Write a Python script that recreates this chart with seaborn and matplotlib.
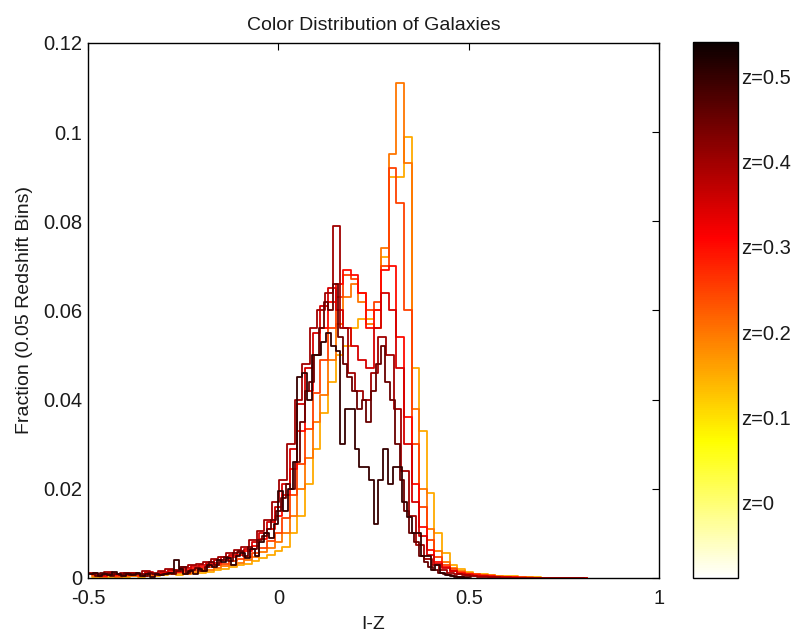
import numpy as np
import pandas as pd
import matplotlib
matplotlib.use("Agg")
import matplotlib.pyplot as plt
import matplotlib.colors as mcolors
import seaborn as sns

# redshift of each histogram (colour), bin start / width and fractions per bin
redshifts = [0.15, 0.2, 0.25, 0.3, 0.35, 0.4, 0.45, 0.5]
bin_start = [-0.49, -0.49, -0.49, -0.49, -0.49, -0.4975, -0.49375, -0.5]
bin_width = [0.02, 0.02, 0.02, 0.02, 0.02, 0.02, 0.0125, 0.0125]

frac_z015 = [0.0003, 0.0005, 0.0002, 0.0004, 0.0003, 0.0005, 0.0003, 0.0006, 0.0004, 0.0006,
             0.0008, 0.0007, 0.0010, 0.0012, 0.0011, 0.0014, 0.0017, 0.0020, 0.0024, 0.0028,
             0.0032, 0.0038, 0.0045, 0.0052, 0.0060, 0.0070, 0.0100, 0.0140, 0.0210, 0.0290,
             0.0370, 0.0440, 0.0500, 0.0520, 0.0560, 0.0580, 0.0580, 0.0600, 0.0720, 0.0900,
             0.0900, 0.0990, 0.0470, 0.0330, 0.0190, 0.0100, 0.0055, 0.0030, 0.0020, 0.0014,
             0.0010, 0.0008, 0.0006, 0.0005, 0.0004, 0.0004, 0.0003, 0.0002, 0.0002, 0.0001,
             0.0001, 0.0001, 0.0, 0.0, 0.0]
frac_z020 = [0.0004, 0.0003, 0.0006, 0.0003, 0.0005, 0.0004, 0.0007, 0.0005, 0.0006, 0.0008,
             0.0009, 0.0011, 0.0010, 0.0014, 0.0016, 0.0018, 0.0022, 0.0026, 0.0030, 0.0034,
             0.0040, 0.0048, 0.0058, 0.0068, 0.0080, 0.0100, 0.0140, 0.0200, 0.0270, 0.0350,
             0.0410, 0.0490, 0.0570, 0.0630, 0.0660, 0.0620, 0.0570, 0.0560, 0.0740, 0.0950,
             0.1110, 0.0930, 0.0380, 0.0200, 0.0110, 0.0060, 0.0035, 0.0022, 0.0016, 0.0012,
             0.0009, 0.0007, 0.0006, 0.0004, 0.0003, 0.0003, 0.0002, 0.0002, 0.0001, 0.0001,
             0.0001, 0.0, 0.0, 0.0, 0.0]
frac_z025 = [0.0006, 0.0004, 0.0007, 0.0005, 0.0006, 0.0008, 0.0005, 0.0009, 0.0007, 0.0010,
             0.0012, 0.0014, 0.0013, 0.0017, 0.0020, 0.0024, 0.0028, 0.0032, 0.0037, 0.0042,
             0.0048, 0.0056, 0.0068, 0.0082, 0.0100, 0.0135, 0.0185, 0.0255, 0.0335, 0.0415,
             0.0490, 0.0560, 0.0630, 0.0680, 0.0670, 0.0640, 0.0600, 0.0620, 0.0700, 0.0920,
             0.0840, 0.0600, 0.0300, 0.0160, 0.0085, 0.0048, 0.0030, 0.0020, 0.0014, 0.0010,
             0.0008, 0.0006, 0.0004, 0.0003, 0.0003, 0.0002, 0.0002, 0.0001, 0.0001, 0.0,
             0.0, 0.0, 0.0, 0.0, 0.0]
frac_z030 = [0.0008, 0.0005, 0.0009, 0.0006, 0.0007, 0.0009, 0.0006, 0.0011, 0.0008, 0.0012,
             0.0015, 0.0013, 0.0018, 0.0022, 0.0025, 0.0030, 0.0034, 0.0040, 0.0046, 0.0052,
             0.0060, 0.0072, 0.0088, 0.0110, 0.0140, 0.0185, 0.0245, 0.0330, 0.0420, 0.0500,
             0.0560, 0.0620, 0.0660, 0.0690, 0.0680, 0.0640, 0.0560, 0.0600, 0.0690, 0.0700,
             0.0540, 0.0360, 0.0210, 0.0115, 0.0062, 0.0036, 0.0024, 0.0016, 0.0011, 0.0008,
             0.0006, 0.0005, 0.0004, 0.0003, 0.0002, 0.0002, 0.0001, 0.0001, 0.0, 0.0,
             0.0, 0.0, 0.0, 0.0, 0.0]
frac_z035 = [0.0010, 0.0006, 0.0011, 0.0008, 0.0009, 0.0011, 0.0008, 0.0013, 0.0010, 0.0014,
             0.0018, 0.0016, 0.0022, 0.0026, 0.0030, 0.0034, 0.0040, 0.0046, 0.0052, 0.0058,
             0.0066, 0.0080, 0.0100, 0.0125, 0.0160, 0.0210, 0.0290, 0.0390, 0.0470, 0.0550,
             0.0610, 0.0650, 0.0600, 0.0560, 0.0520, 0.0490, 0.0470, 0.0560, 0.0640, 0.0600,
             0.0470, 0.0300, 0.0170, 0.0095, 0.0052, 0.0032, 0.0022, 0.0015, 0.0010, 0.0007,
             0.0005, 0.0004, 0.0003, 0.0002, 0.0002, 0.0001, 0.0001, 0.0, 0.0, 0.0,
             0.0, 0.0, 0.0, 0.0, 0.0]
frac_z040 = [0.0012, 0.0007, 0.0013, 0.0009, 0.0011, 0.0012, 0.0009, 0.0015, 0.0011, 0.0016,
             0.0020, 0.0018, 0.0025, 0.0028, 0.0032, 0.0036, 0.0042, 0.0048, 0.0055, 0.0062,
             0.0070, 0.0085, 0.0105, 0.0130, 0.0170, 0.0220, 0.0300, 0.0400, 0.0480, 0.0560,
             0.0600, 0.0640, 0.0790, 0.0560, 0.0460, 0.0420, 0.0400, 0.0460, 0.0540, 0.0500,
             0.0380, 0.0240, 0.0140, 0.0075, 0.0042, 0.0028, 0.0018, 0.0012, 0.0008, 0.0006,
             0.0004, 0.0003, 0.0002, 0.0002, 0.0001, 0.0, 0.0, 0.0, 0.0, 0.0,
             0.0, 0.0, 0.0, 0.0, 0.0]
frac_z045 = [0.0010, 0.0005, 0.0012, 0.0008, 0.0005, 0.0010, 0.0007, 0.0012,
             0.0006, 0.0010, 0.0008, 0.0005, 0.0012, 0.0008, 0.0006, 0.0010,
             0.0012, 0.0008, 0.0015, 0.0025, 0.0012, 0.0018, 0.0022, 0.0015,
             0.0025, 0.0035, 0.0028, 0.0040, 0.0048, 0.0038, 0.0055, 0.0060,
             0.0050, 0.0070, 0.0065, 0.0085, 0.0095, 0.0110, 0.0130, 0.0150,
             0.0180, 0.0210, 0.0200, 0.0260, 0.0350, 0.0420, 0.0440, 0.0500,
             0.0560, 0.0620, 0.0600, 0.0660, 0.0540, 0.0480, 0.0450, 0.0420,
             0.0380, 0.0400, 0.0350, 0.0420, 0.0480, 0.0520, 0.0440, 0.0400,
             0.0300, 0.0220, 0.0150, 0.0100, 0.0080, 0.0050, 0.0035, 0.0025,
             0.0018, 0.0012, 0.0010, 0.0006, 0.0005, 0.0003, 0.0002, 0.0002]
frac_z050 = [0.0008, 0.0012, 0.0005, 0.0010, 0.0006, 0.0014, 0.0008, 0.0004,
             0.0010, 0.0006, 0.0012, 0.0005, 0.0008, 0.0003, 0.0010, 0.0006,
             0.0008, 0.0012, 0.0040, 0.0020, 0.0010, 0.0015, 0.0008, 0.0020,
             0.0015, 0.0030, 0.0025, 0.0040, 0.0035, 0.0045, 0.0030, 0.0050,
             0.0055, 0.0045, 0.0065, 0.0050, 0.0080, 0.0100, 0.0090, 0.0120,
             0.0195, 0.0150, 0.0200, 0.0260, 0.0450, 0.0460, 0.0400, 0.0500,
             0.0500, 0.0530, 0.0550, 0.0520, 0.0510, 0.0300, 0.0380, 0.0380,
             0.0290, 0.0250, 0.0250, 0.0220, 0.0120, 0.0220, 0.0290, 0.0210,
             0.0250, 0.0250, 0.0170, 0.0137, 0.0100, 0.0100, 0.0050, 0.0050,
             0.0018, 0.0030, 0.0012, 0.0006, 0.0004, 0.0003, 0.0002, 0.0001]
fractions = [frac_z015, frac_z020, frac_z025, frac_z030,
             frac_z035, frac_z040, frac_z045, frac_z050]

cbar_ticks = [0, 0.1, 0.2, 0.3, 0.4, 0.5]
cbar_labels = ["z=0", "z=0.1", "z=0.2", "z=0.3", "z=0.4", "z=0.5"]

sns.set_style("white")
plt.rcParams["font.family"] = ["Liberation Sans", "DejaVu Sans"]

fig = plt.figure(figsize=(7.94, 6.35), dpi=100)
ax = fig.add_axes([0.111, 0.0898, 0.719, 0.8425])
cax = fig.add_axes([0.873, 0.0898, 0.057, 0.8441])

cmap = plt.get_cmap("hot_r")
norm = mcolors.Normalize(vmin=-0.088, vmax=0.54)

for z, start, width, vals in zip(redshifts, bin_start, bin_width, fractions):
    n = len(vals)
    centers = start + width * (np.arange(n) + 0.5)
    df = pd.DataFrame({"x": centers, "w": vals})
    sns.histplot(data=df, x="x", weights="w", binwidth=width,
                 binrange=(start, start + width * n), element="step",
                 fill=False, color=cmap(norm(z)), linewidth=1.3, ax=ax)

txt = "#1a1a1a"
ax.set_xlim(-0.5, 1)
ax.set_ylim(0, 0.12)
ax.set_xticks([-0.5, 0, 0.5, 1])
ax.set_xticklabels(["-0.5", "0", "0.5", "1"])
ax.set_yticks([0, 0.02, 0.04, 0.06, 0.08, 0.1, 0.12])
ax.set_yticklabels(["0", "0.02", "0.04", "0.06", "0.08", "0.1", "0.12"])
ax.tick_params(direction="in", length=5, width=0.8, top=True, right=True,
               labelsize=14.5, color="black", labelcolor=txt)
ax.tick_params(axis="x", pad=8)
ax.tick_params(axis="y", pad=4)
for s in ax.spines.values():
    s.set_visible(True)
    s.set_color("black")
    s.set_linewidth(1.0)

ax.set_title("Color Distribution of Galaxies", fontsize=14, pad=9, color=txt)
ax.set_xlabel("I-Z", fontsize=14, labelpad=6, color=txt)
ax.set_ylabel("Fraction (0.05 Redshift Bins)", fontsize=14, color=txt)
ax.yaxis.set_label_coords(-0.097, 0.5)

sm = plt.cm.ScalarMappable(norm=norm, cmap=cmap)
cb = fig.colorbar(sm, cax=cax, ticks=cbar_ticks)
cb.set_ticklabels(cbar_labels)
cb.outline.set_edgecolor("black")
cb.outline.set_linewidth(1.0)
cax.tick_params(direction="in", length=5, width=0.8, left=True, right=True,
                labelsize=14.5, pad=2, labelcolor=txt)

fig.savefig("out.png", dpi=100)
